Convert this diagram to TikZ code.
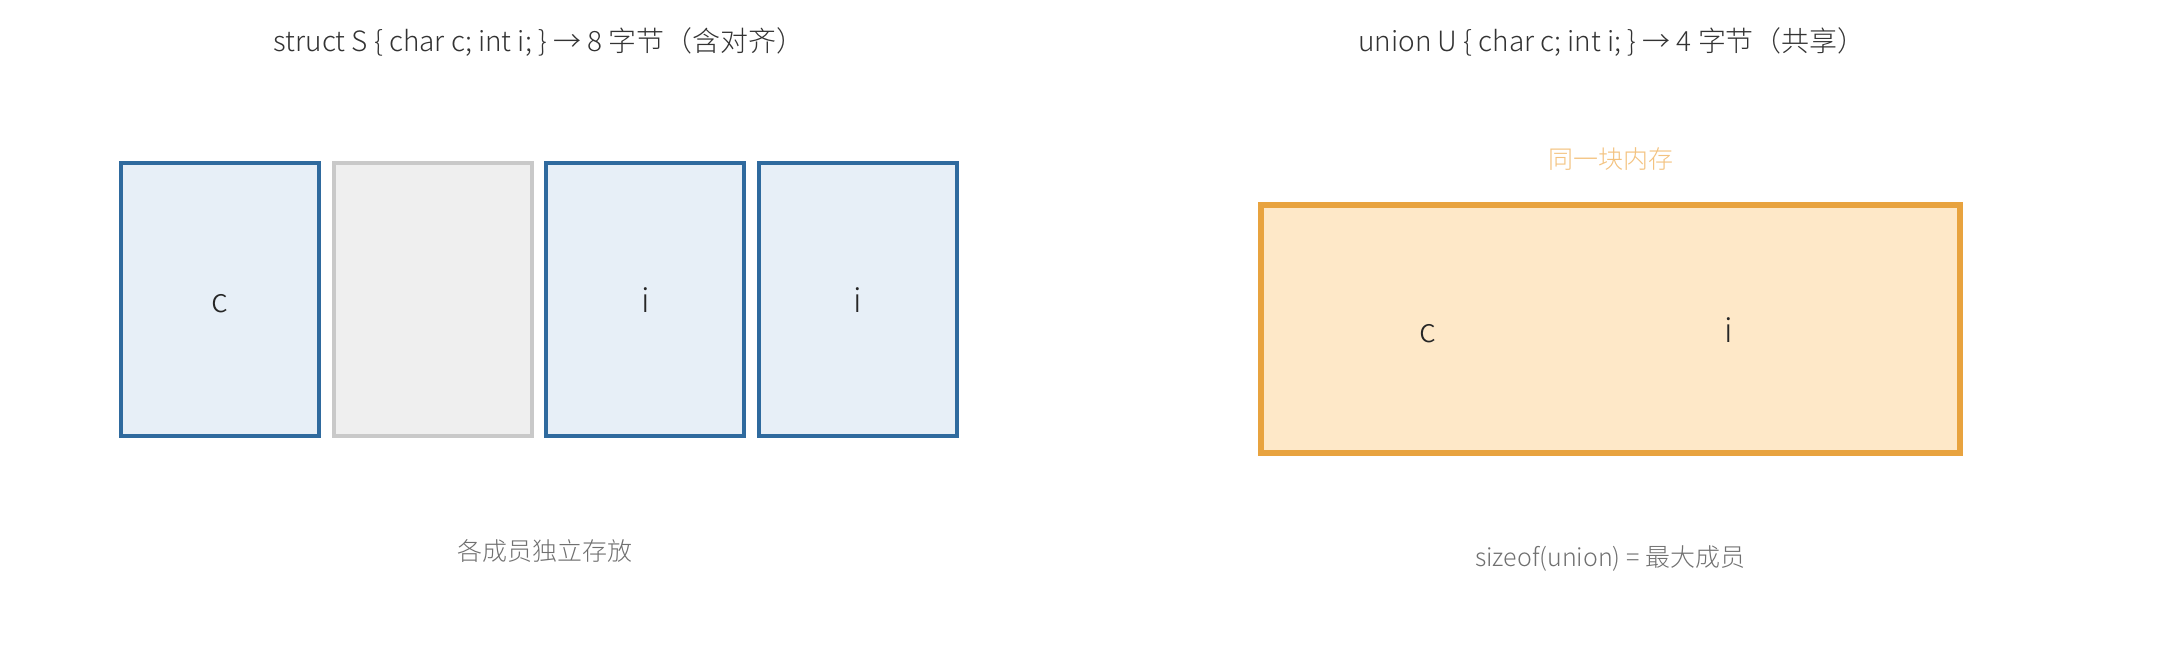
\documentclass[tikz,border=0pt]{standalone}
\usepackage{fontspec}
\setmainfont{Noto Sans CJK SC Light}
\usetikzlibrary{positioning}

\definecolor{memblue}{HTML}{2F6A9E}
\definecolor{memfill}{HTML}{E7EFF7}
\definecolor{padline}{HTML}{C9C9C9}
\definecolor{padfill}{HTML}{EFEFEF}
\definecolor{uniline}{HTML}{E8A33F}
\definecolor{unifill}{HTML}{FEE8C8}
\definecolor{unitext}{HTML}{F3C27F}
\definecolor{notegray}{HTML}{707070}

\begin{document}
\begin{tikzpicture}[x=0.01cm, y=-0.01cm, node distance=2.125cm, on grid,
    cell/.style={draw=memblue, fill=memfill, line width=0.04cm, inner sep=0pt,
        minimum width=1.98cm, minimum height=2.73cm},
    pad/.style={cell, draw=padline, fill=padfill},
    unibox/.style={draw=uniline, fill=unifill, line width=0.06cm, inner sep=0pt,
        minimum width=6.99cm, minimum height=2.48cm},
    member/.style={font=\fontsize{9.4}{11}\selectfont, text=black!85, inner sep=0pt,
        text height=0.8em, text depth=0.05em},
    title/.style={font=\fontsize{7.95}{9}\selectfont, text=black!80},
    note/.style={font=\fontsize{7.1}{9}\selectfont, text=notegray}]
    \useasboundingbox (0,0) rectangle (2157,657);

    \node[title] (ts) at (539,42) {struct S \{ char c; int i; \} → 8 字节（含对齐）};
    \node[title] (tu) at (1612,42) {union U \{ char c; int i; \} → 4 字节（共享）};

    \node[cell] (s0) at (220,299.5) {};
    \node[pad] (s1) [right=of s0] {};
    \node[cell] (s2) [right=of s1] {};
    \node[cell] (s3) [right=of s2] {};
    \node[member] at (s0) {c};
    \node[member] at (s2) {i};
    \node[member] at (s3) {i};
    \node[note] (ns) at (545,551) {各成员独立存放};

    \node[unibox] (u) at (1610.5,329) {};
    \node[member] (uc) [left=1.83cm of u] {c};
    \node[member] (ui) [right=1.18cm of u] {i};
    \node[note, text=unitext] (same) at (1611,159) {同一块内存};
    \node[note] (nu) at (1610,558) {sizeof(union) = 最大成员};
\end{tikzpicture}
\end{document}
